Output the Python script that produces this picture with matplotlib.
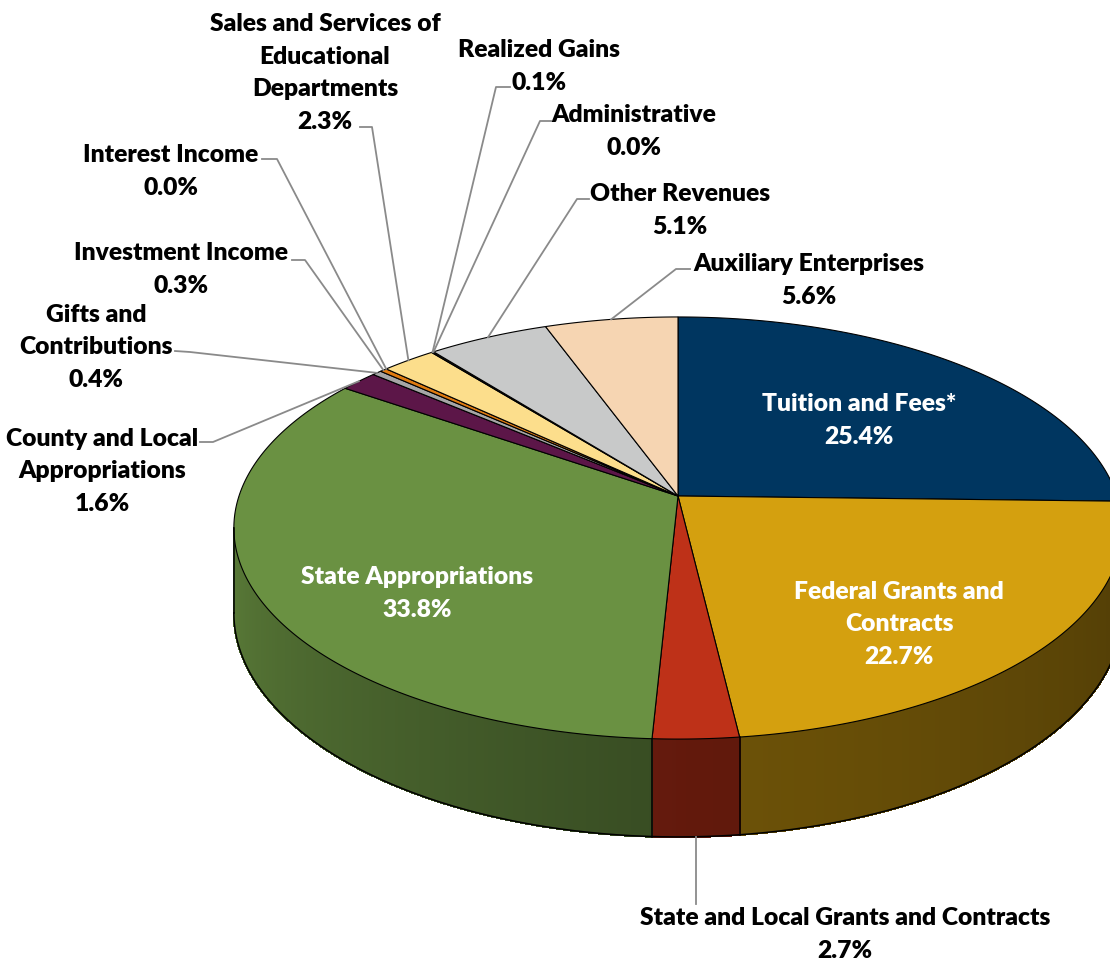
import numpy as np
import matplotlib.pyplot as plt
from matplotlib.patches import Polygon
from matplotlib.collections import PolyCollection
from matplotlib.colors import to_rgb

# revenue shares (percent), clockwise from 12 o'clock
categories = ["Tuition and Fees*", "Federal Grants and\nContracts",
              "State and Local Grants and Contracts", "State Appropriations",
              "County and Local\nAppropriations", "Gifts and\nContributions",
              "Investment Income", "Interest Income",
              "Sales and Services of\nEducational\nDepartments",
              "Realized Gains", "Administrative", "Other Revenues",
              "Auxiliary Enterprises"]
values = [25.4, 22.7, 2.7, 33.8, 1.6, 0.4, 0.3, 0.0, 2.3, 0.1, 0.0, 5.1, 5.6]
colors = ["#003660", "#D4A00F", "#BE3118", "#6A9142", "#5C1648", "#A6A6A6",
          "#E07B10", "#7F7F7F", "#FCDE8C", "#1A1A1A", "#404040", "#C8C9C9",
          "#F6D5B2"]

# label layout (pixel coords, x centre / last-line baseline) and leader elbows
label_pos = [(859, 444), (899, 664), (845, 958), (417, 617), (102, 511),
             (96, 387), (181, 293), (171, 195), (325, 129), (539, 90),
             (634, 155), (680, 234), (809, 304)]
inside = [0, 1, 3]
elbows = {4: [(200, 443), (213, 443)], 5: [(175, 352), (190, 353)],
          6: [(292, 261), (305, 261)], 7: [(262, 160), (277, 160)],
          8: [(360, 128), (372, 128)], 9: [(510, 88), (496, 88)],
          10: [(551, 122), (540, 122)], 11: [(589, 200), (577, 200)],
          12: [(690, 270), (676, 270)]}

# 3d pie geometry (pixels)
cx, cy = 678, 497
A, B, T, K = 439, 206.2, 83, 0.1517


def proj(theta, r=1.0, z=0.0):
    t = np.radians(theta)
    X = r * np.sin(t)
    Y = -r * np.cos(t)
    s = 1 / (1 - K * Y)
    return cx + A * X * s, cy + (B * Y + T * z) * s


def shade(theta):
    return np.interp(theta, [90, 180, 270], [0.36, 0.52, 0.88])


fig = plt.figure(figsize=(11.1, 9.62), dpi=100)
ax = fig.add_axes([0, 0, 1, 1])
ax.set_xlim(0, 1110)
ax.set_ylim(962, 0)
ax.axis("off")

vals = np.array(values)
ends = np.cumsum(vals) / vals.sum() * 360
starts = np.concatenate([[0], ends[:-1]])

grid = np.linspace(0, 360, 3601)
gx, _ = proj(grid)
th_r = grid[:1800][np.argmax(gx[:1800])]
th_l = grid[1800:][np.argmin(gx[1800:])]

# side wall
polys, fcs = [], []
for i in range(len(vals)):
    a0, a1 = max(starts[i], th_r), min(ends[i], th_l)
    if a1 <= a0:
        continue
    ts = np.linspace(a0, a1, max(2, int((a1 - a0) / 0.5) + 1))
    base = np.array(to_rgb(colors[i]))
    for t0, t1 in zip(ts[:-1], ts[1:]):
        x0, y0 = proj(t0)
        x1, y1 = proj(t1)
        x2, y2 = proj(t1, 1, 1)
        x3, y3 = proj(t0, 1, 1)
        polys.append([(x0, y0), (x1, y1), (x2, y2), (x3, y3)])
        fcs.append(base * shade((t0 + t1) / 2))
ax.add_collection(PolyCollection(polys, facecolors=fcs, edgecolors=fcs,
                                 linewidths=1.0, antialiaseds=False))

tb = np.linspace(th_r, th_l, 400)
bx, by = proj(tb, 1, 1)
ax.plot(bx, by, color="black", lw=1.1)
for b in [th_r, th_l] + [e for e in ends if th_r < e < th_l]:
    xa, ya = proj(b)
    xb, yb = proj(b, 1, 1)
    ax.plot([xa, xb], [ya, yb], color="black", lw=1.1)

# top face
for i in range(len(vals)):
    if vals[i] <= 0:
        continue
    ts = np.linspace(starts[i], ends[i], max(2, int((ends[i] - starts[i]) / 0.5) + 2))
    xs, ys = proj(ts)
    pts = [(cx, cy)] + list(zip(xs, ys))
    ax.add_patch(Polygon(pts, closed=True, facecolor=colors[i],
                         edgecolor="black", lw=0.8))

# labels
font = dict(family="Lato", weight="heavy", fontsize=17.7, linespacing=1.59)
for i, name in enumerate(categories):
    txt = f"{name}\n{values[i]:.1f}%"
    col = "white" if i in inside else "black"
    ax.text(label_pos[i][0], label_pos[i][1], txt, ha="center", va="baseline",
            color=col, **font)

lc = "#8A8A8A"
mids = (starts + ends) / 2
for i, pts in elbows.items():
    ax_, ay_ = proj(mids[i])
    xs = [p[0] for p in pts] + [ax_]
    ys = [p[1] for p in pts] + [ay_]
    ax.plot(xs, ys, color=lc, lw=1.3)
xg, yg = proj(mids[2], 1, 1)
ax.plot([xg, xg], [yg, 905], color=lc, lw=1.3)

fig.savefig("out.png", dpi=100)
